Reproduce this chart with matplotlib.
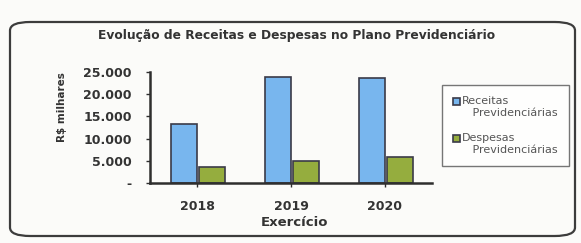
import matplotlib
matplotlib.use("Agg")
import matplotlib.pyplot as plt
from matplotlib.patches import FancyBboxPatch
from matplotlib.ticker import FuncFormatter
import numpy as np

anos = ["2018", "2019", "2020"]
receitas = [13400, 23800, 23600]
despesas = [3600, 4900, 5900]
series_labels = ["Receitas\n   Previdenciárias", "Despesas\n   Previdenciárias"]
yticks = [0, 5000, 10000, 15000, 20000, 25000]

plt.rcParams['font.family'] = ['DejaVu Sans']

W, H = 581, 243
fig = plt.figure(figsize=(W / 100, H / 100), dpi=100)
fig.patch.set_facecolor('#fbfbf9')

# outer rounded frame
frame = FancyBboxPatch((10 / W, 7 / H), (565) / W, (214) / H,
                       boxstyle="round,pad=0,rounding_size=0.035",
                       transform=fig.transFigure, fill=False,
                       edgecolor='#3c3c3c', linewidth=1.6)
fig.patches.append(frame)

ax = fig.add_axes([150 / W, (H - 183) / H, (432 - 150) / W, (183 - 72) / H])
ax.set_facecolor('none')

x = np.arange(len(anos))
bw = 0.28
ax.bar(x - bw / 2 + 0.005, receitas, bw, color='#78b6ee', edgecolor='#3a3a48',
       linewidth=1.2, label=series_labels[0])
ax.bar(x + bw / 2 + 0.02, despesas, bw, color='#95ad3e', edgecolor='#3a3a48',
       linewidth=1.2, label=series_labels[1])

ax.set_xlim(-0.5, 2.5)
ax.set_ylim(0, 25000)
ax.set_yticks(yticks)
ax.yaxis.set_major_formatter(FuncFormatter(
    lambda v, p: '-' if v == 0 else f"{int(v):,}".replace(',', '.')))
ax.set_xticks(x)
ax.set_xticklabels(anos)

for s in ['top', 'right']:
    ax.spines[s].set_visible(False)
for s in ['left', 'bottom']:
    ax.spines[s].set_linewidth(1.8)
    ax.spines[s].set_color('#2e2e2e')

ax.tick_params(axis='y', length=3, width=1, color='#2e2e2e', pad=10,
               labelsize=9, labelcolor='#333333')
ax.tick_params(axis='x', length=3, width=1, color='#2e2e2e', pad=9,
               labelsize=9, labelcolor='#333333')
for lbl in ax.get_yticklabels() + ax.get_xticklabels():
    lbl.set_fontweight('bold')

fig.text(62 / W, 1 - 107 / H, 'R$ milhares', rotation=90, ha='center',
         va='center', fontsize=7.5, fontweight='bold', color='#333333')
fig.text(294 / W, 1 - 222 / H, 'Exercício', ha='center', va='center',
         fontsize=9.5, fontweight='bold', color='#333333')

fig.text(297 / W, 1 - 35 / H,
         'Evolução de Receitas e Despesas no Plano Previdenciário',
         ha='center', va='center', fontsize=8.8, fontweight='bold',
         color='#333333')

leg = ax.legend(loc='upper left', bbox_to_anchor=(442 / W, 1 - 85 / H),
                bbox_transform=fig.transFigure, fontsize=8, frameon=True,
                fancybox=False, edgecolor='#555555', handlelength=0.6,
                handleheight=0.6, handletextpad=0.2, labelspacing=1.4,
                borderpad=1.0, borderaxespad=0)
leg.get_frame().set_linewidth(1.0)
for t in leg.get_texts():
    t.set_color('#555555')
for h in leg.legend_handles:
    h.set_y(h.get_y() + 4)

fig.savefig('out.png', dpi=100, facecolor=fig.get_facecolor())
